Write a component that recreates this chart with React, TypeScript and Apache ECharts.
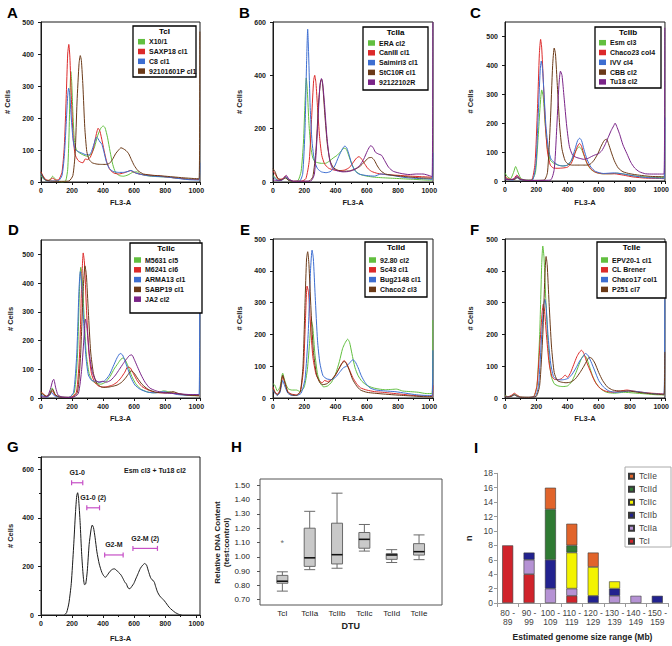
import React, { useEffect, useRef } from 'react';
import * as echarts from 'echarts';

const FONT = '"Liberation Sans", Arial, Helvetica, sans-serif';
const GREEN = '#62bf3f';
const RED = '#dc2a2a';
const BLUE = '#3d6ed1';
const BROWN = '#6b3a18';
const PURPLE = '#7a2488';
const INK = '#1a1a1a';

type Pt = [number, number];

// ---------- Panel A (TcI) ----------
const A_X10: Pt[] = [[0,20],[15,10],[40,4],[60,8],[75,18],[90,10],[110,2],[140,0],[160,5],[172,40],[180,140],[187,280],[192,345],[198,310],[205,220],[215,130],[228,100],[245,92],[270,85],[300,80],[325,88],[345,110],[365,145],[385,168],[400,175],[412,170],[428,140],[445,95],[462,55],[480,30],[505,20],[530,18],[560,22],[590,30],[615,32],[640,25],[680,20],[740,17],[800,16],[860,13],[920,10],[980,8],[1018,8]];
const A_SAXP18: Pt[] = [[0,32],[12,20],[30,8],[50,5],[75,12],[95,6],[115,8],[135,30],[150,110],[162,260],[172,400],[179,430],[186,390],[195,270],[207,140],[220,85],[238,68],[255,62],[270,60],[285,72],[300,70],[318,78],[335,100],[352,140],[368,168],[380,158],[395,125],[410,90],[425,60],[445,38],[470,28],[500,25],[530,28],[555,32],[575,36],[600,30],[640,24],[700,21],[760,19],[820,15],[900,11],[960,8],[1018,8]];
const A_C8: Pt[] = [[0,28],[15,12],[35,4],[70,3],[110,3],[135,20],[150,80],[162,180],[172,270],[178,293],[185,275],[195,200],[207,130],[220,102],[240,95],[265,90],[290,85],[310,85],[325,95],[342,120],[358,140],[368,135],[380,125],[392,118],[405,95],[420,65],[440,42],[465,33],[500,30],[530,30],[560,33],[580,36],[610,28],[650,23],[700,19],[760,17],[820,15],[900,10],[960,7],[1018,6],[1023,60]];
const A_92101601P: Pt[] = [[0,30],[12,18],[30,6],[60,3],[120,2],[180,3],[205,20],[220,90],[232,250],[245,370],[253,395],[260,380],[270,300],[282,170],[295,95],[310,70],[330,60],[360,56],[390,55],[420,55],[440,58],[460,70],[480,88],[500,100],[515,107],[530,104],[548,98],[565,88],[582,70],[600,52],[625,35],[660,25],[720,21],[780,19],[850,16],[920,13],[980,11],[1018,10],[1023,470]];

// ---------- Panel B (TcIIa) ----------
const B_ERA: Pt[] = [[0,25],[15,15],[35,6],[60,10],[80,16],[100,6],[130,2],[160,5],[180,40],[195,150],[205,300],[213,390],[220,340],[230,220],[242,130],[255,90],[270,76],[290,72],[310,70],[335,70],[360,78],[385,90],[410,100],[430,112],[450,125],[462,127],[475,115],[490,90],[510,60],[530,40],[560,28],[600,22],[650,18],[700,16],[800,13],[900,10],[1000,7],[1018,7]];
const B_CanIII: Pt[] = [[0,42],[15,28],[35,10],[60,12],[80,22],[100,10],[130,3],[180,3],[210,12],[232,80],[248,250],[260,380],[267,400],[275,370],[285,280],[298,170],[312,100],[330,68],[355,52],[390,45],[430,43],[460,45],[490,55],[515,75],[535,90],[550,95],[565,88],[585,70],[605,52],[630,40],[670,32],[720,28],[800,25],[880,22],[950,20],[1018,18]];
const B_Saimiri3: Pt[] = [[0,20],[15,12],[35,5],[60,8],[80,20],[100,8],[130,2],[170,3],[190,30],[205,200],[215,450],[222,573],[228,480],[238,280],[250,150],[265,80],[285,50],[310,38],[340,35],[370,40],[395,60],[420,95],[445,125],[460,135],[472,128],[488,100],[505,65],[525,42],[550,30],[600,24],[650,22],[690,30],[720,28],[770,24],[830,18],[900,14],[980,12],[1018,10],[1023,110]];
const B_StC10R: Pt[] = [[0,50],[12,40],[30,15],[55,8],[80,15],[100,6],[130,2],[230,3],[255,20],[275,120],[292,300],[305,380],[312,385],[320,350],[332,250],[348,140],[365,80],[385,55],[410,45],[450,40],[490,42],[525,48],[555,58],[585,75],[610,90],[630,92],[648,82],[668,60],[690,42],[720,30],[780,24],[850,20],[930,16],[1018,14]];
const B_92122102R: Pt[] = [[0,8],[20,6],[50,6],[70,15],[85,25],[100,12],[130,3],[240,3],[265,30],[285,200],[300,360],[310,388],[318,370],[330,290],[345,170],[362,85],[380,52],[410,42],[450,38],[490,40],[525,48],[555,62],[580,85],[605,118],[625,136],[640,130],[655,112],[675,105],[695,100],[715,80],[740,55],[770,40],[820,32],[870,28],[920,30],[960,30],[1000,24],[1018,20],[1023,600]];

// ---------- Panel C (TcIIb) ----------
const C_Esm: Pt[] = [[0,28],[15,15],[35,8],[55,30],[68,50],[80,35],[100,10],[130,3],[170,3],[195,30],[212,150],[225,260],[235,315],[245,290],[258,190],[272,110],[290,72],[310,62],[340,55],[370,52],[400,55],[425,70],[445,95],[462,112],[475,118],[490,110],[505,90],[525,60],[550,40],[580,30],[620,25],[680,25],[720,27],[760,24],[820,18],[900,14],[980,12],[1018,12]];
const C_Chaco23: Pt[] = [[0,15],[20,8],[50,5],[75,20],[95,8],[130,2],[170,3],[192,60],[208,250],[220,440],[228,490],[235,460],[245,350],[258,200],[272,100],[290,55],[310,45],[340,44],[370,45],[400,48],[425,62],[445,90],[462,118],[478,130],[490,120],[505,92],[525,62],[550,42],[580,30],[630,25],[700,25],[760,20],[820,14],[900,10],[980,9],[1018,8]];
const C_IVV: Pt[] = [[0,10],[20,5],[50,3],[75,12],[95,5],[130,2],[175,3],[198,60],[212,220],[225,380],[232,415],[240,390],[250,300],[262,190],[278,110],[295,75],[315,65],[340,55],[370,52],[400,55],[425,72],[448,110],[465,140],[478,148],[490,140],[505,110],[525,75],[550,48],[580,33],[630,26],[700,28],[760,24],[820,18],[900,12],[980,10],[1018,9],[1023,220]];
const C_CBB: Pt[] = [[0,8],[25,5],[60,5],[80,12],[100,5],[150,2],[250,3],[272,30],[290,200],[305,400],[315,460],[323,440],[335,330],[350,190],[365,110],[385,70],[405,58],[430,55],[460,55],[490,55],[520,55],[545,58],[570,72],[595,95],[615,120],[635,140],[650,145],[662,130],[680,100],[700,70],[725,45],[755,32],[800,25],[860,20],[930,16],[1000,15],[1018,15]];
const C_Tu18: Pt[] = [[0,5],[30,5],[60,8],[80,18],[100,6],[150,2],[290,3],[315,40],[330,170],[345,330],[355,380],[365,365],[378,290],[395,190],[412,120],[432,90],[455,82],[480,78],[505,75],[530,78],[555,85],[575,90],[600,95],[620,105],[640,125],[660,150],[680,175],[695,190],[705,200],[718,185],[735,160],[755,125],[780,95],[805,65],[830,45],[860,32],[900,25],[950,24],[1000,24],[1018,24],[1023,530]];

// ---------- Panel D (TcIIc) ----------
const D_M5631: Pt[] = [[0,20],[15,12],[35,5],[55,15],[72,35],[90,12],[120,3],[180,2],[215,20],[235,150],[248,380],[256,455],[265,420],[278,280],[292,150],[310,85],[330,60],[355,52],[385,48],[415,55],[445,75],[470,100],[495,120],[515,135],[530,140],[545,130],[565,105],[585,75],[610,50],[640,32],[680,22],[720,18],[760,20],[790,25],[820,22],[870,15],[930,10],[980,8],[1018,8]];
const D_M6241: Pt[] = [[0,22],[15,14],[35,6],[55,10],[72,25],[90,10],[120,3],[190,2],[228,20],[248,150],[262,400],[272,505],[280,470],[292,320],[308,160],[325,85],[345,55],[370,42],[400,38],[430,40],[460,45],[490,55],[515,70],[540,90],[558,108],[575,105],[595,85],[620,60],[650,40],[690,28],[730,20],[780,18],[830,18],[880,15],[940,10],[1018,8]];
const D_ARMA13: Pt[] = [[0,10],[20,6],[40,3],[60,12],[68,20],[85,8],[120,3],[180,2],[210,20],[230,150],[245,380],[253,440],[262,400],[275,260],[290,140],[305,80],[325,62],[350,58],[380,55],[410,60],[440,80],[465,110],[490,140],[510,155],[525,150],[540,130],[560,100],[580,70],[605,45],[640,30],[690,20],[740,18],[790,22],[830,18],[880,12],[940,10],[1000,12],[1018,12],[1023,530]];
const D_SABP19: Pt[] = [[0,18],[15,12],[35,6],[55,12],[75,30],[92,12],[120,3],[200,2],[235,20],[255,150],[272,380],[283,460],[292,430],[305,300],[320,160],[338,85],[360,50],[390,38],[420,37],[455,40],[490,45],[520,55],[545,70],[565,85],[580,95],[598,88],[620,70],[650,48],[690,30],[740,20],[800,18],[850,22],[890,15],[950,10],[1018,8]];
const D_JA2: Pt[] = [[0,5],[20,4],[40,5],[60,30],[75,60],[82,65],[95,35],[110,10],[140,3],[200,2],[240,15],[262,100],[278,220],[286,275],[295,250],[310,160],[328,95],[348,65],[372,55],[395,58],[420,55],[450,62],[480,80],[505,100],[530,120],[550,135],[570,148],[585,150],[600,135],[620,110],[645,80],[670,55],[700,35],[740,25],[790,18],[840,16],[900,14],[960,12],[1018,12]];

// ---------- Panel E (TcIId) ----------
const E_9280: Pt[] = [[0,45],[12,40],[28,22],[45,35],[62,78],[75,55],[95,30],[120,25],[150,25],[175,20],[200,35],[220,90],[235,180],[245,245],[255,220],[268,140],[285,75],[305,45],[325,35],[350,38],[375,50],[400,75],[425,115],[445,155],[460,172],[478,185],[490,175],[505,140],[525,95],[545,70],[570,52],[600,40],[640,32],[680,28],[720,26],[760,27],[790,28],[830,22],[880,20],[930,18],[980,14],[1018,14],[1023,245]];
const E_Sc43: Pt[] = [[0,35],[12,20],[28,12],[45,25],[62,68],[75,50],[95,20],[120,12],[150,10],[175,20],[195,90],[208,250],[218,352],[228,330],[240,230],[255,130],[275,75],[295,55],[315,48],[330,55],[350,52],[375,58],[400,72],[420,90],[440,108],[455,118],[470,110],[490,88],[510,65],[535,45],[560,32],[600,25],[650,20],[700,18],[760,15],[820,12],[900,8],[980,6],[1018,5],[1023,40]];
const E_Bug2148: Pt[] = [[0,25],[12,15],[28,8],[45,18],[62,55],[75,38],[95,15],[120,8],[150,8],[180,15],[205,60],[225,200],[240,400],[250,465],[258,440],[270,320],[285,180],[300,110],[320,70],[345,60],[375,58],[400,65],[425,80],[450,95],[470,100],[490,110],[510,120],[525,115],[545,95],[565,70],[590,48],[620,32],[660,25],[720,22],[780,20],[850,15],[920,10],[980,8],[1018,8],[1023,150]];
const E_Chaco2: Pt[] = [[0,30],[12,18],[28,10],[45,22],[62,72],[75,50],[95,18],[120,10],[150,8],[175,20],[192,100],[205,300],[215,440],[222,460],[230,420],[242,290],[258,150],[278,75],[300,48],[320,42],[345,45],[370,55],[395,70],[420,90],[440,108],[455,115],[470,108],[490,85],[510,58],[535,38],[560,25],[600,18],[650,15],[720,12],[800,9],[900,6],[980,4],[1018,4]];

// ---------- Panel F (TcIIe) ----------
const F_EPV20: Pt[] = [[0,8],[20,4],[40,6],[60,12],[75,8],[100,3],[150,2],[185,5],[205,40],[222,200],[235,420],[242,478],[250,440],[262,300],[278,150],[295,70],[315,45],[340,38],[370,36],[400,38],[425,50],[450,75],[470,100],[490,125],[505,135],[520,128],[540,100],[560,70],[585,45],[615,28],[650,18],[700,15],[760,18],[820,16],[900,13],[980,10],[1018,10]];
const F_CLBrener: Pt[] = [[0,6],[20,4],[40,8],[60,15],[75,10],[100,3],[150,2],[185,5],[205,40],[225,180],[238,270],[245,295],[252,280],[265,200],[282,110],[300,68],[320,58],[345,58],[365,62],[385,72],[400,65],[420,80],[440,105],[460,130],[478,145],[490,150],[505,140],[525,110],[550,80],[575,52],[605,32],[640,22],[690,18],[740,22],[780,25],[820,22],[880,18],[940,15],[1018,13]];
const F_Chaco17: Pt[] = [[0,5],[20,3],[40,5],[60,10],[75,6],[100,2],[150,2],[195,5],[215,40],[235,200],[248,290],[255,310],[263,290],[275,200],[292,110],[310,68],[330,58],[355,57],[380,58],[405,62],[430,75],[455,95],[480,118],[500,130],[515,140],[530,135],[550,115],[575,85],[600,55],[630,35],[665,22],[710,18],[760,20],[800,22],[850,20],[920,15],[1000,12],[1018,12],[1023,310]];
const F_P251: Pt[] = [[0,4],[20,3],[40,5],[60,10],[75,6],[100,2],[150,2],[200,5],[222,40],[242,200],[255,380],[263,445],[270,420],[282,300],[298,160],[315,80],[335,55],[360,50],[390,48],[420,50],[450,60],[480,80],[505,100],[525,118],[540,128],[555,125],[575,110],[600,80],[625,55],[655,35],[690,25],[740,22],[790,22],[850,18],[920,14],[1000,11],[1018,10],[1023,145]];

// ---------- Panel G (mix) ----------
const G_mix: Pt[] = [[150,0],[165,10],[180,50],[195,130],[210,280],[222,420],[230,490],[236,503],[242,480],[252,380],[262,250],[272,160],[280,125],[288,128],[298,180],[310,290],[322,350],[330,370],[338,360],[348,320],[360,260],[375,210],[392,175],[405,160],[415,155],[428,165],[445,180],[460,188],[472,190],[485,185],[500,175],[515,165],[528,150],[540,135],[550,128],[560,112],[572,108],[585,118],[598,130],[610,148],[625,170],[640,192],[655,205],[668,212],[680,205],[692,180],[705,155],[715,145],[728,138],[738,118],[750,95],[765,78],[780,68],[795,58],[810,45],[825,32],[845,20],[865,10],[890,2],[905,0]];
const gateLabels = ['G1-0', 'G1-0 (2)', 'G2-M', 'G2-M (2)'];
const gateStart = [197, 295, 410, 592];
const gateEnd = [269, 377, 529, 750];
const gateLevel = [544, 441, 247, 274];

// ---------- Panel H (boxplot) ----------
const dtuNames = ['TcI', 'TcIIa', 'TcIIb', 'TcIIc', 'TcIId', 'TcIIe'];
const boxMin = [0.76, 0.91, 0.92, 1.04, 0.96, 0.98];
const boxQ1 = [0.815, 0.933, 0.95, 1.06, 0.982, 1.012];
const boxMedian = [0.829, 0.993, 1.015, 1.122, 1.013, 1.036];
const boxQ3 = [0.87, 1.2, 1.235, 1.17, 1.022, 1.092];
const boxMax = [0.895, 1.318, 1.445, 1.226, 1.05, 1.153];
const outlierDtu = [0];
const outlierValue = [1.11];
const hTicks = [0.7, 1.5, 0.1];

// ---------- Panel I (stacked bars) ----------
const sizeRanges = ['80 - 89', '90 - 99', '100 - 109', '110 - 119', '120 - 129', '130 - 139', '140 - 149', '150 - 159'];
const nTcI = [8, 4, 0, 1, 0, 0, 0, 0];
const nTcIIa = [0, 2, 2, 1, 0, 1, 1, 0];
const nTcIIb = [0, 1, 4, 0, 1, 1, 0, 1];
const nTcIIc = [0, 0, 0, 5, 4, 1, 0, 0];
const nTcIId = [0, 0, 7, 1, 0, 0, 0, 0];
const nTcIIe = [0, 0, 3, 3, 2, 0, 0, 0];

// ---------- layout ----------
interface HistPanel {
  title: string;
  grid: [number, number, number, number];
  yMax: number;
  yInt: number;
  yGap: number;
  xGap: number;
  box: [number, number, number, number] | null;
  leg: [number, number] | null;
  series: [string, string, Pt[]][];
}

const histPanels: HistPanel[] = [
  { title: 'TcI', grid: [41, 22, 159, 160], yMax: 500, yInt: 100, yGap: 30, xGap: 16, box: [133, 26, 63, 51], leg: [138, 37.7],
    series: [['X10/1', GREEN, A_X10], ['SAXP18 cl1', RED, A_SAXP18], ['C8 cl1', BLUE, A_C8], ['92101601P cl1', BROWN, A_92101601P]] },
  { title: 'TcIIa', grid: [273, 22, 160, 160], yMax: 600, yInt: 200, yGap: 30, xGap: 16, box: [363, 27, 65, 63], leg: [368, 39],
    series: [['ERA cl2', GREEN, B_ERA], ['CanIII cl1', RED, B_CanIII], ['Saimiri3 cl1', BLUE, B_Saimiri3], ['StC10R cl1', BROWN, B_StC10R], ['92122102R', PURPLE, B_92122102R]] },
  { title: 'TcIIb', grid: [505, 22, 163, 159], yMax: 550, yInt: 100, yGap: 31, xGap: 17, box: [595, 27, 66, 61], leg: [599, 38.7],
    series: [['Esm cl3', GREEN, C_Esm], ['Chaco23 col4', RED, C_Chaco23], ['IVV cl4', BLUE, C_IVV], ['CBB cl2', BROWN, C_CBB], ['Tu18 cl2', PURPLE, C_Tu18]] },
  { title: 'TcIIc', grid: [41, 240, 159, 158], yMax: 550, yInt: 100, yGap: 27, xGap: 16, box: [130, 243, 72, 70], leg: [134, 256],
    series: [['M5631 cl5', GREEN, D_M5631], ['M6241 cl6', RED, D_M6241], ['ARMA13 cl1', BLUE, D_ARMA13], ['SABP19 cl1', BROWN, D_SABP19], ['JA2 cl2', PURPLE, D_JA2]] },
  { title: 'TcIId', grid: [273, 239, 160, 159], yMax: 500, yInt: 100, yGap: 30, xGap: 16, box: [365, 242, 62, 55], leg: [369, 256],
    series: [['92.80 cl2', GREEN, E_9280], ['Sc43 cl1', RED, E_Sc43], ['Bug2148 cl1', BLUE, E_Bug2148], ['Chaco2 cl3', BROWN, E_Chaco2]] },
  { title: 'TcIIe', grid: [505, 239, 163, 159], yMax: 500, yInt: 100, yGap: 31, xGap: 16, box: [597, 242, 69, 56], leg: [601, 256],
    series: [['EPV20-1 cl1', GREEN, F_EPV20], ['CL Brener', RED, F_CLBrener], ['Chaco17 col1', BLUE, F_Chaco17], ['P251 cl7', BROWN, F_P251]] },
  { title: '', grid: [41, 457, 159, 158], yMax: 650, yInt: 200, yGap: 27, xGap: 19, box: null, leg: null,
    series: [['Esm cl3 + Tu18 cl2', INK, G_mix]] },
];

const letters: [string, number, number][] = [
  ['A', 7, 5], ['B', 239, 5], ['C', 470, 5], ['D', 8, 222], ['E', 240, 222], ['F', 470, 222], ['G', 7, 439], ['H', 231, 439], ['I', 474, 440],
];

const plain = (v: number) => String(v);

function buildOption() {
  const grids: any[] = [];
  const xAxes: any[] = [];
  const yAxes: any[] = [];
  const series: any[] = [];
  const legends: any[] = [];
  const graphics: any[] = [];

  const tickLabel = { fontSize: 7, fontWeight: 'bold', color: INK, fontFamily: FONT, formatter: plain };
  const nameStyle = { fontSize: 7.5, fontWeight: 'bold', color: INK, fontFamily: FONT };

  histPanels.forEach((p, i) => {
    const [l, t, w, h] = p.grid;
    grids.push({ left: l, top: t, width: w, height: h, show: true, borderColor: INK, borderWidth: 1, backgroundColor: 'transparent' });
    xAxes.push({
      type: 'value', gridIndex: i, min: 0, max: 1024, interval: 200,
      axisLine: { show: true, lineStyle: { color: INK, width: 1 } },
      axisTick: { show: true, length: 3, lineStyle: { color: INK } },
      minorTick: { show: true, splitNumber: 2, length: 2, lineStyle: { color: INK } },
      splitLine: { show: false }, minorSplitLine: { show: false },
      axisLabel: { ...tickLabel, margin: 5, showMaxLabel: false },
      name: 'FL3-A', nameLocation: 'middle', nameGap: p.xGap, nameTextStyle: nameStyle,
    });
    yAxes.push({
      type: 'value', gridIndex: i, min: 0, max: p.yMax, interval: p.yInt,
      axisLine: { show: true, lineStyle: { color: INK, width: 1 } },
      axisTick: { show: true, length: 3, lineStyle: { color: INK } },
      minorTick: { show: i === 6, splitNumber: 2, length: 2, lineStyle: { color: INK } },
      splitLine: { show: false },
      axisLabel: { ...tickLabel, margin: 7, showMaxLabel: p.yMax % p.yInt === 0 ? true : false },
      name: '# Cells', nameLocation: 'middle', nameGap: p.yGap, nameTextStyle: nameStyle,
    });
    p.series.forEach(([name, color, data]) => {
      series.push({
        name, type: 'line', xAxisIndex: i, yAxisIndex: i, data, showSymbol: false, symbol: 'none',
        smooth: 0.2, lineStyle: { color, width: 1 }, itemStyle: { color }, z: 2,
      });
    });
    if (p.box && p.leg) {
      const [bx, by, bw, bh] = p.box;
      graphics.push({ type: 'rect', shape: { x: bx, y: by, width: bw, height: bh }, style: { fill: '#fff', stroke: '#000', lineWidth: 1.3 }, z: 5 });
      graphics.push({ type: 'text', x: bx + bw / 2, y: by + 5.5, z: 6,
        style: { text: p.title, fontSize: 8, fontWeight: 'bold', fontFamily: FONT, fill: '#000', align: 'center', verticalAlign: 'middle', textAlign: 'center', textVerticalAlign: 'middle' } });
      legends.push({
        left: p.leg[0], top: p.leg[1], orient: 'vertical', icon: 'rect', itemWidth: 7, itemHeight: 5.5, itemGap: 1.8,
        padding: 0, selectedMode: false, z: 8,
        textStyle: { fontSize: 7, fontWeight: 'bold', color: '#111', fontFamily: FONT, lineHeight: 8, padding: [0, 0, 0, -1] },
        data: p.series.map((s) => s[0]),
      });
    }
  });

  // G gates
  series.push({
    type: 'custom', xAxisIndex: 6, yAxisIndex: 6, z: 4,
    data: gateStart.map((s, k) => [s, gateEnd[k], gateLevel[k]]),
    encode: { x: [0, 1], y: 2 },
    renderItem: (params: any, api: any) => {
      const k = params.dataIndex;
      const a = api.coord([api.value(0), api.value(2)]);
      const b = api.coord([api.value(1), api.value(2)]);
      const col = '#c64fc6';
      const st = { stroke: col, lineWidth: 1.2 };
      return {
        type: 'group',
        children: [
          { type: 'line', shape: { x1: a[0], y1: a[1], x2: b[0], y2: b[1] }, style: st },
          { type: 'line', shape: { x1: a[0], y1: a[1] - 2.5, x2: a[0], y2: a[1] + 2.5 }, style: st },
          { type: 'line', shape: { x1: b[0], y1: b[1] - 2.5, x2: b[0], y2: b[1] + 2.5 }, style: st },
          { type: 'text', x: (a[0] + b[0]) / 2, y: a[1] - 10,
            style: { text: gateLabels[k], fontSize: 7, fontWeight: 'bold', fontFamily: FONT, fill: INK, align: 'center', verticalAlign: 'middle', textAlign: 'center', textVerticalAlign: 'middle' } },
        ],
      };
    },
  });
  graphics.push({ type: 'text', x: 155, y: 470, z: 6,
    style: { text: 'Esm cl3 + Tu18 cl2', fontSize: 7, fontWeight: 'bold', fontFamily: FONT, fill: INK, align: 'center', verticalAlign: 'middle', textAlign: 'center', textVerticalAlign: 'middle' } });

  // ---------- H ----------
  const hIdx = 7;
  grids.push({ left: 268.7, top: 485.3, width: 164, height: 114.4, show: false });
  xAxes.push({
    type: 'category', gridIndex: hIdx, data: dtuNames, offset: 5.3,
    axisLine: { show: false }, axisTick: { show: false },
    axisLabel: { fontSize: 8, color: '#222', fontFamily: FONT, margin: 4 },
    name: 'DTU', nameLocation: 'middle', nameGap: 16, nameTextStyle: { fontSize: 9, fontWeight: 'bold', color: '#222', fontFamily: FONT },
  });
  yAxes.push({
    type: 'value', gridIndex: hIdx, min: hTicks[0], max: hTicks[1], interval: hTicks[2], offset: 8.7,
    axisLine: { show: false }, axisTick: { show: true, length: 3, lineStyle: { color: '#555' } },
    splitLine: { show: false },
    axisLabel: { fontSize: 8, color: '#222', fontFamily: FONT, margin: 10, formatter: (v: number) => v.toFixed(2) },
    name: 'Relative DNA Content\n(test:control)', nameLocation: 'middle', nameGap: 18,
    nameTextStyle: { fontSize: 8, fontWeight: 'bold', color: '#222', fontFamily: FONT, lineHeight: 9 },
  });
  series.push({
    type: 'boxplot', xAxisIndex: hIdx, yAxisIndex: hIdx, boxWidth: [11, 11],
    data: dtuNames.map((_, k) => [boxMin[k], boxQ1[k], boxMedian[k], boxQ3[k], boxMax[k]]),
    itemStyle: { color: '#c9c9c9', borderColor: '#6a6a6a', borderWidth: 1 },
  });
  series.push({
    type: 'custom', xAxisIndex: hIdx, yAxisIndex: hIdx, z: 5,
    data: boxMedian.map((m, k) => [k, m]),
    renderItem: (params: any, api: any) => {
      const c = api.coord([api.value(0), api.value(1)]);
      return { type: 'line', shape: { x1: c[0] - 5.5, y1: c[1], x2: c[0] + 5.5, y2: c[1] }, style: { stroke: '#111', lineWidth: 1.5 } };
    },
  });
  series.push({
    type: 'scatter', xAxisIndex: hIdx, yAxisIndex: hIdx, symbolSize: 1,
    itemStyle: { color: 'rgba(0,0,0,0)' },
    data: outlierDtu.map((d, k) => [d, outlierValue[k]]),
    label: { show: true, position: 'inside', formatter: '*', fontSize: 9, color: '#444', offset: [0, 2], fontFamily: FONT },
  });
  graphics.push({ type: 'rect', shape: { x: 260, y: 479, width: 182, height: 126 }, style: { fill: 'none', stroke: '#555', lineWidth: 1 }, z: 6 });

  // ---------- I ----------
  const iIdx = 8;
  grids.push({ left: 497, top: 473.3, width: 171, height: 129.7, show: false });
  xAxes.push({
    type: 'category', gridIndex: iIdx, data: sizeRanges,
    axisLine: { show: true, lineStyle: { color: '#999' } },
    axisTick: { show: true, length: 4, lineStyle: { color: '#999' } },
    axisLabel: { fontSize: 8.5, color: '#444', fontFamily: FONT, margin: 5, lineHeight: 9.5, interval: 0, formatter: (v: string) => v.replace(' - ', ' -\n') },
    name: 'Estimated genome size range (Mb)', nameLocation: 'middle', nameGap: 29,
    nameTextStyle: { fontSize: 8.5, fontWeight: 'bold', color: '#222', fontFamily: FONT },
  });
  yAxes.push({
    type: 'value', gridIndex: iIdx, min: 0, max: 18, interval: 2,
    axisLine: { show: true, lineStyle: { color: '#999' } },
    axisTick: { show: true, length: 3, lineStyle: { color: '#999' } },
    splitLine: { show: false },
    axisLabel: { fontSize: 8.5, color: '#444', fontFamily: FONT, margin: 4 },
    name: 'n', nameLocation: 'middle', nameGap: 24, nameTextStyle: { fontSize: 9, fontWeight: 'bold', color: '#222', fontFamily: FONT },
  });
  const stacks: [string, string, number[]][] = [
    ['TcI', '#d0232b', nTcI], ['TcIIa', '#b592d4', nTcIIa], ['TcIIb', '#22228f', nTcIIb],
    ['TcIIc', '#f3f300', nTcIIc], ['TcIId', '#2f7a33', nTcIId], ['TcIIe', '#e1642b', nTcIIe],
  ];
  stacks.forEach(([name, color, vals]) => {
    series.push({
      name, type: 'bar', stack: 'n', xAxisIndex: iIdx, yAxisIndex: iIdx, barWidth: 11,
      data: vals.map((v) => (v === 0 ? '-' : v)),
      itemStyle: { color, borderColor: '#3a3a3a', borderWidth: 0.6 },
    });
  });
  graphics.push({ type: 'rect', shape: { x: 625, y: 467, width: 46, height: 80 }, style: { fill: '#fff', stroke: '#aaa', lineWidth: 1 }, z: 5 });
  legends.push({
    left: 628, top: 471.5, orient: 'vertical', icon: 'rect', itemWidth: 5, itemHeight: 5, itemGap: 3.5, padding: 0,
    selectedMode: false, z: 8,
    textStyle: { fontSize: 8.5, color: '#444', fontFamily: FONT, lineHeight: 9.5 },
    data: stacks.map((s) => s[0]).reverse(),
  });

  letters.forEach(([txt, x, y]) => {
    graphics.push({ type: 'text', x, y, z: 6,
      style: { text: txt, fontSize: 15, fontWeight: 'bold', fontFamily: FONT, fill: '#000', align: 'left', verticalAlign: 'top', textAlign: 'left', textVerticalAlign: 'top' } });
  });

  return {
    animation: false,
    backgroundColor: '#fff',
    textStyle: { fontFamily: FONT },
    grid: grids,
    xAxis: xAxes,
    yAxis: yAxes,
    legend: legends,
    series,
    graphic: { elements: graphics },
  };
}

export default function App() {
  const ref = useRef<HTMLDivElement>(null);
  useEffect(() => {
    document.body.style.margin = '0';
    const chart = echarts.init(ref.current as HTMLDivElement, undefined, { renderer: 'svg', width: 672, height: 646 });
    chart.setOption(buildOption() as any);
    return () => chart.dispose();
  }, []);
  return <div ref={ref} style={{ width: 672, height: 646 }} />;
}
